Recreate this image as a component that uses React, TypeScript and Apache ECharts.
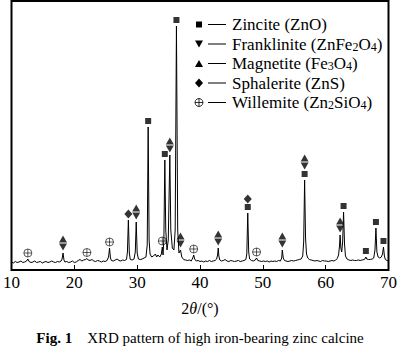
import React, { useEffect, useRef } from "react";
import * as echarts from "echarts";

const pattern: [number, number][] = [
  [10.0, 8], [10.3, 7], [10.6, 8.5], [10.9, 7.5], [11.2, 8], [11.5, 9], [11.8, 7.5], [12.1, 8], [12.4, 9],
  [12.6, 11], [12.8, 8.5], [13.1, 7.5], [13.4, 8], [13.7, 9], [14.0, 7.5], [14.3, 8], [14.6, 8.5], [14.9, 7],
  [15.2, 8], [15.5, 8.5], [15.8, 7.5], [16.1, 8], [16.4, 9], [16.7, 8], [17.0, 7.5], [17.3, 8.5], [17.6, 8],
  [17.9, 9], [18.05, 11], [18.2, 17], [18.35, 10], [18.5, 8], [18.8, 8.5], [19.1, 7.5], [19.4, 8], [19.7, 9],
  [20.0, 7.5], [20.3, 8], [20.6, 9.5], [20.9, 10.5], [21.2, 9], [21.5, 10], [21.8, 10.5], [22.0, 11.5],
  [22.2, 10], [22.5, 9.5], [22.8, 10.5], [23.1, 9], [23.4, 8.5], [23.7, 9.5], [24.0, 9], [24.3, 8], [24.6, 9],
  [24.9, 8.5], [25.2, 9.5], [25.45, 13], [25.6, 22], [25.75, 12], [25.9, 9.5], [26.2, 9], [26.5, 10],
  [26.8, 11], [27.1, 9.5], [27.4, 9], [27.7, 10], [28.0, 9.5], [28.3, 10.5], [28.45, 18], [28.6, 50],
  [28.75, 17], [28.9, 10.5], [29.2, 10], [29.5, 11], [29.7, 18], [29.85, 48], [30.0, 17], [30.2, 11],
  [30.5, 10.5], [30.8, 11], [31.1, 12], [31.4, 13], [31.6, 25], [31.75, 143], [31.9, 30], [32.05, 16],
  [32.3, 13], [32.6, 14], [32.9, 16], [33.1, 13], [33.3, 15], [33.6, 13], [33.85, 16], [34.0, 23],
  [34.12, 15], [34.25, 30], [34.4, 110], [34.55, 40], [34.75, 20], [34.95, 30], [35.2, 115], [35.35, 40],
  [35.6, 22], [35.85, 20], [36.05, 40], [36.25, 244], [36.45, 40], [36.65, 17], [36.9, 20], [37.1, 13],
  [37.4, 10.5], [37.7, 10], [38.0, 9.5], [38.3, 10], [38.6, 9], [38.85, 12], [39.0, 15], [39.15, 11],
  [39.4, 9], [39.7, 9.5], [40.0, 8.5], [40.3, 9], [40.6, 8], [40.9, 9], [41.2, 8.5], [41.5, 9.5], [41.8, 8.5],
  [42.1, 9], [42.4, 9.5], [42.65, 11], [42.8, 15], [42.9, 22], [43.0, 14], [43.15, 10], [43.4, 9],
  [43.7, 9.5], [44.0, 10.5], [44.3, 9], [44.6, 8.5], [44.9, 9.5], [45.2, 9], [45.5, 8.5], [45.8, 9],
  [46.1, 9.5], [46.4, 8.5], [46.7, 9], [47.0, 9.5], [47.3, 10.5], [47.45, 16], [47.6, 57], [47.75, 18],
  [47.9, 11], [48.2, 9.5], [48.5, 9], [48.8, 10], [49.0, 12], [49.2, 9.5], [49.5, 9], [49.8, 8.5],
  [50.1, 9], [50.4, 8.5], [50.7, 9], [51.0, 8], [51.3, 9], [51.6, 8.5], [51.9, 9], [52.2, 8.5], [52.5, 9.5],
  [52.8, 9], [53.0, 12], [53.1, 20], [53.25, 12], [53.45, 9.5], [53.7, 9], [54.0, 8.5], [54.3, 9],
  [54.6, 9.5], [54.9, 9], [55.2, 9.5], [55.5, 10], [55.8, 10.5], [56.1, 11], [56.35, 14], [56.5, 28],
  [56.65, 90], [56.8, 32], [56.95, 16], [57.15, 12], [57.4, 10.5], [57.7, 10], [58.0, 9.5], [58.3, 9],
  [58.6, 9.5], [58.9, 9], [59.2, 8.5], [59.5, 9.5], [59.8, 9], [60.1, 9], [60.4, 8.5], [60.7, 9],
  [61.0, 9.5], [61.3, 9], [61.6, 10], [61.85, 11.5], [62.05, 15], [62.2, 24], [62.3, 35], [62.42, 22],
  [62.55, 18], [62.7, 28], [62.85, 58], [63.0, 26], [63.15, 14], [63.4, 11], [63.7, 10], [64.0, 9.5],
  [64.3, 10], [64.6, 9.5], [64.9, 9.5], [65.2, 10], [65.5, 9.5], [65.8, 10], [66.1, 10.5], [66.25, 11],
  [66.4, 13], [66.55, 11], [66.8, 10.5], [67.1, 10.5], [67.4, 11], [67.65, 12], [67.85, 20], [68.0, 42],
  [68.15, 18], [68.35, 13], [68.6, 12], [68.85, 13], [69.05, 16], [69.2, 23], [69.35, 14], [69.5, 10.5],
  [69.75, 9.5], [70.0, 9],
];

// Peak positions (2θ) assigned to each phase
const zincitePeaks = [31.75, 34.4, 36.25, 47.6, 56.65, 62.85, 66.4, 68.0, 69.2];
const franklinitePeaks = [18.2, 29.85, 35.2, 36.9, 42.9, 53.1, 56.65, 62.3];
const magnetitePeaks = [18.2, 29.85, 35.2, 36.9, 42.9, 53.1, 56.65, 62.3];
const sphaleritePeaks = [28.6, 47.6];
const willemitePeaks = [12.6, 22.0, 25.6, 34.0, 39.0, 49.0];

const phaseNames = [
  "Zincite (ZnO)",
  "Franklinite (ZnFe2O4)",
  "Magnetite (Fe3O4)",
  "Sphalerite (ZnS)",
  "Willemite (Zn2SiO4)",
];
const legendLabels = [
  "{t|Zincite (ZnO)}",
  "{t|Franklinite (ZnFe}{s|2}{t|O}{s|4}{t|)}",
  "{t|Magnetite (Fe}{s|3}{t|O}{s|4}{t|)}",
  "{t|Sphalerite (ZnS)}",
  "{t|Willemite (Zn}{s|2}{t|SiO}{s|4}{t|)}",
];

const xTicks = [10, 20, 30, 40, 50, 60, 70];
const captionLabel = "Fig. 1";
const captionText = "XRD pattern of high iron-bearing zinc calcine";

const SERIF = "Liberation Serif";
const DOWN_TRI = "path://M0,0 L10,0 L5,9 Z";
const CROSS_CIRCLE =
  "path://M0,5 A5,5 0 1,1 10,5 A5,5 0 1,1 0,5 Z M5,0 L5,10 M0,5 L10,5";

function peakHeight(a: number): number {
  let m = 0;
  for (const [x, y] of pattern) if (Math.abs(x - a) <= 0.13 && y > m) m = y;
  return m;
}

function markerData(peaks: number[], levelOf: (a: number) => number) {
  return peaks.map((a) => ({
    value: [a, peakHeight(a)],
    symbolOffset: [0, -(6 + 8 * levelOf(a))],
  }));
}

const has = (arr: number[], a: number) => arr.some((v) => Math.abs(v - a) < 0.01);

function legendSymbol(i: number, cx: number, cy: number): any[] {
  const fill = { fill: "#000" };
  if (i === 0) return [{ type: "rect", shape: { x: cx - 3, y: cy - 3, width: 6, height: 6 }, style: fill }];
  if (i === 1)
    return [{ type: "polygon", shape: { points: [[cx - 4, cy - 3.5], [cx + 4, cy - 3.5], [cx, cy + 3.5]] }, style: fill }];
  if (i === 2)
    return [{ type: "polygon", shape: { points: [[cx - 4, cy + 3.5], [cx + 4, cy + 3.5], [cx, cy - 3.5]] }, style: fill }];
  if (i === 3)
    return [{ type: "polygon", shape: { points: [[cx, cy - 4.5], [cx + 4, cy], [cx, cy + 4.5], [cx - 4, cy]] }, style: fill }];
  const st = { fill: "none", stroke: "#000", lineWidth: 0.8 };
  return [
    { type: "circle", shape: { cx, cy, r: 4 }, style: st },
    { type: "line", shape: { x1: cx - 4, y1: cy, x2: cx + 4, y2: cy }, style: st },
    { type: "line", shape: { x1: cx, y1: cy - 4, x2: cx, y2: cy + 4 }, style: st },
  ];
}

export default function App() {
  const ref = useRef<HTMLDivElement>(null);
  useEffect(() => {
    document.body.style.margin = "0";
    const chart = echarts.init(ref.current!, null, { renderer: "svg" });
    const markerBase = {
      type: "scatter" as const,
      z: 5,
      itemStyle: { color: "#000" },
    };

    const legendGraphics: any[] = [];
    phaseNames.forEach((_, i) => {
      const cy = 24.5 + 19.5 * i;
      legendGraphics.push(...legendSymbol(i, 199, cy));
      legendGraphics.push({
        type: "line",
        shape: { x1: 208, y1: cy, x2: 226, y2: cy },
        style: { stroke: "#000", lineWidth: 1 },
      });
      legendGraphics.push({
        type: "text",
        style: {
          x: 232,
          y: cy,
          verticalAlign: "middle",
          text: legendLabels[i],
          fontFamily: SERIF,
          fontSize: 17,
          rich: {
            t: { fontFamily: SERIF, fontSize: 17, fill: "#000", lineHeight: 17 },
            s: { fontFamily: SERIF, fontSize: 12, fill: "#000", lineHeight: 6, verticalAlign: "bottom" },
          },
        },
      });
    });

    chart.setOption({
      animation: false,
      backgroundColor: "#fff",
      textStyle: { fontFamily: SERIF, fontSize: 17 },
      grid: {
        left: 8,
        right: 9,
        top: 1,
        bottom: 81,
        show: true,
        borderColor: "#000",
        borderWidth: 2,
      },
      xAxis: {
        type: "value",
        min: 10,
        max: 70,
        interval: 10,
        axisLine: { show: false },
        axisTick: { show: true, inside: true, length: 5, lineStyle: { color: "#000", width: 1 } },
        axisLabel: {
          color: "#000",
          fontFamily: SERIF,
          fontSize: 17,
          margin: 4,
          formatter: (v: number) => (xTicks.includes(v) ? String(v) : ""),
        },
        splitLine: { show: false },
        name: "{n|2}{i|θ}{n|/(°)}",
        nameLocation: "middle",
        nameGap: 30,
        nameTextStyle: {
          fontFamily: SERIF,
          fontSize: 16,
          rich: {
            n: { fontFamily: SERIF, fontSize: 16, color: "#000" },
            i: { fontFamily: SERIF, fontSize: 16, color: "#000", fontStyle: "italic" },
          },
        },
      },
      yAxis: {
        type: "value",
        min: 0,
        max: 269,
        show: false,
        splitLine: { show: false },
      },
      graphic: legendGraphics,
      series: [
        {
          type: "line",
          data: pattern,
          showSymbol: false,
          lineStyle: { color: "#000", width: 1 },
          z: 3,
        },
        {
          ...markerBase,
          name: phaseNames[0],
          symbol: "rect",
          symbolSize: 6,
          data: markerData(zincitePeaks, () => 0),
        },
        {
          ...markerBase,
          name: phaseNames[1],
          symbol: DOWN_TRI,
          symbolSize: [8, 7],
          data: markerData(franklinitePeaks, (a) => (has(zincitePeaks, a) ? 1 : 0)),
        },
        {
          ...markerBase,
          name: phaseNames[2],
          symbol: "triangle",
          symbolSize: [8, 7],
          data: markerData(magnetitePeaks, (a) => (has(zincitePeaks, a) ? 2 : 1)),
        },
        {
          ...markerBase,
          name: phaseNames[3],
          symbol: "diamond",
          symbolSize: [8, 9],
          data: markerData(sphaleritePeaks, (a) => (has(zincitePeaks, a) ? 1 : 0)),
        },
        {
          type: "scatter",
          z: 5,
          name: phaseNames[4],
          symbol: CROSS_CIRCLE,
          symbolSize: 8,
          itemStyle: { color: "rgba(0,0,0,0)", borderColor: "#000", borderWidth: 0.8 },
          data: markerData(willemitePeaks, () => 0),
        },
      ],
    });
    return () => chart.dispose();
  }, []);
  return (
    <div style={{ position: "relative", width: 400, height: 351, fontFamily: SERIF }}>
      <div ref={ref} style={{ width: 400, height: 351 }} />
      <div
        style={{
          position: "absolute",
          left: 0,
          top: 329,
          width: 400,
          textAlign: "center",
          fontSize: 15,
          lineHeight: "18px",
          color: "#000",
          whiteSpace: "pre",
        }}
      >
        <b>{captionLabel}</b>
        {"    " + captionText}
      </div>
    </div>
  );
}
